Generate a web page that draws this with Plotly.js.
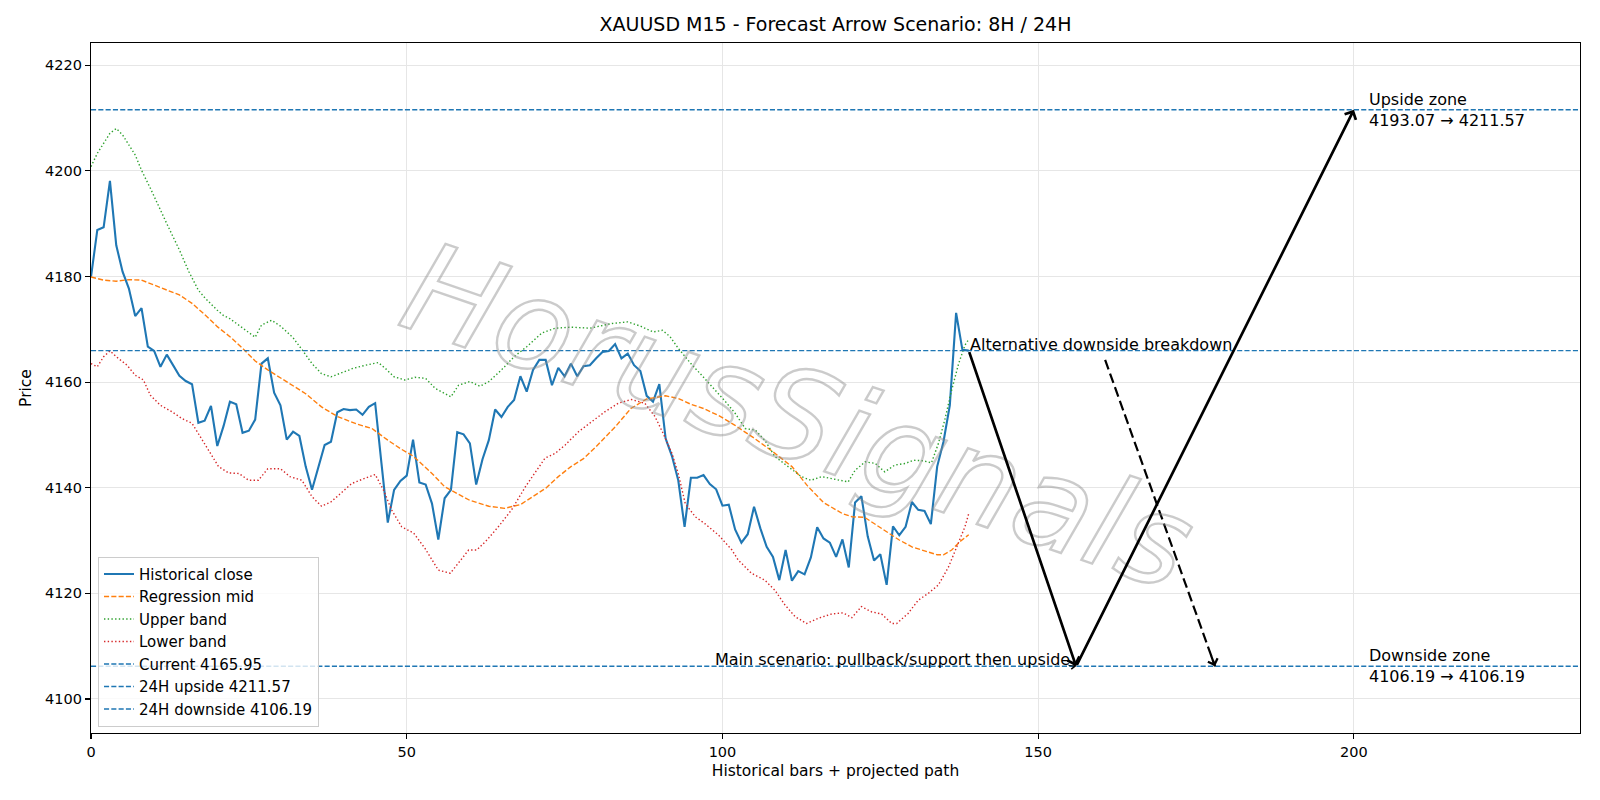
<!DOCTYPE html>
<html>
<head>
<meta charset="utf-8">
<script src="https://cdn.plot.ly/plotly-3.0.1.min.js"></script>
<style>html,body{margin:0;padding:0;background:#fff}#chart{width:1600px;height:800px}</style>
</head>
<body>
<div id="chart"></div>
<script>
// ---- Data ----
const closeY = [4179.9,4188.8,4189.3,4198.1,4185.9,4180.9,4177.7,4172.5,4174.0,4166.7,
4165.9,4162.9,4165.2,4163.3,4161.2,4160.2,4159.6,4152.3,4152.7,4155.5,
4147.9,4151.7,4156.3,4155.8,4150.4,4150.8,4152.9,4163.5,4164.5,4158.0,
4155.6,4149.1,4150.6,4149.8,4144.0,4139.6,4143.7,4148.1,4148.7,4154.3,
4154.9,4154.7,4154.8,4153.8,4155.3,4156.0,4144.6,4133.4,4139.6,4141.3,
4142.3,4149.1,4141.0,4140.6,4137.0,4130.2,4138.0,4139.6,4150.5,4150.1,
4148.4,4140.6,4145.4,4149.0,4154.8,4153.4,4155.3,4156.6,4161.1,4158.2,
4162.3,4164.2,4164.2,4159.4,4162.7,4161.1,4163.5,4161.1,4163.0,4163.2,
4164.5,4165.7,4165.9,4167.2,4164.5,4165.4,4163.2,4162.1,4157.4,4156.3,
4159.6,4149.3,4146.0,4141.4,4132.6,4141.9,4141.9,4142.4,4140.7,4139.7,
4136.6,4136.8,4132.1,4129.6,4131.2,4136.4,4132.3,4128.8,4126.9,4122.5,
4128.2,4122.4,4124.2,4123.6,4126.8,4132.5,4130.4,4129.6,4126.9,4130.2,
4124.9,4137.2,4138.4,4130.8,4126.2,4127.4,4121.6,4132.7,4131.0,4132.6,
4137.3,4135.8,4135.6,4133.1,4144.0,4148.7,4155.6,4173.1,4166.1,4165.95];

const midX = [0,2,4,6,8,10,12,14,16,18,20,22,24,26,28,31,34,36.5,39,42,44.5,47,49,51,54,56,58,60,63,65.5,68,70,72,74,76,78,80,83,85.5,88,91,93,95,97,99.5,102,105,108,111,113.5,116,119,120.5,122.5,125,128,130,132,134,135,136.3,137.6,139];
const midY = [4179.9,4179.3,4179.1,4179.4,4179.3,4178.4,4177.4,4176.5,4174.9,4172.8,4170.5,4168.6,4166.4,4164.0,4162.3,4160.1,4157.8,4155.3,4153.5,4152.1,4151.2,4149.0,4147.4,4146.0,4142.7,4140.2,4138.9,4137.6,4136.5,4136.1,4136.8,4138.3,4139.9,4142.1,4144.0,4145.5,4147.8,4151.5,4155.0,4156.8,4157.4,4156.9,4155.8,4155.0,4153.6,4151.8,4149.4,4146.8,4144.0,4140.3,4137.2,4135.1,4134.5,4134.4,4132.4,4130.1,4128.8,4128.1,4127.3,4127.3,4128.2,4129.8,4131.1];

const upperX = [0,1,2,3,4,5,7,8,9.4,11,12,14,15.5,17,18,20,21,22,24,26,27,28.6,30,32,33.5,35,36.5,38,40,41.5,43.5,45.5,46.6,48,49.7,51.3,53,54.5,57,58.2,60,61.6,63,65,67,69,71.4,73.5,76,79,82.5,85,87,89,90.5,91.7,93,95,96.7,98.6,100.4,102,103.6,105.2,106.7,108.3,110.4,112.5,114,115.7,117.8,119.9,121,122.6,124.2,125.7,127.3,129,130.2,131.8,133.1,134.2,135.2,136.3,137.4,138.4,139];
const upperY = [4200.8,4203.3,4205.2,4207.1,4208.0,4206.8,4203.0,4200.1,4196.7,4192.5,4190.0,4185.0,4180.9,4177.4,4176.0,4173.6,4172.6,4172.0,4170.3,4168.5,4170.8,4171.7,4170.6,4168.4,4166.0,4163.5,4161.6,4161.0,4161.9,4162.6,4163.2,4163.7,4162.6,4161.0,4160.4,4160.9,4160.7,4158.8,4157.2,4159.4,4160.1,4159.2,4160.1,4162.3,4164.8,4166.7,4169.3,4170.2,4170.4,4170.2,4171.1,4171.4,4170.6,4169.5,4169.8,4168.6,4166.4,4163.5,4161.3,4158.8,4156.4,4154.1,4151.2,4150.9,4149.0,4145.9,4144.0,4142.1,4141.4,4142.1,4141.6,4141.1,4143.3,4144.9,4144.6,4143.0,4144.3,4144.6,4145.2,4145.1,4144.7,4148.4,4152.8,4158.5,4163.5,4167.0,4168.1];

const lowerX = [0,1,2,3,4,5.7,7,8.3,9.4,11,12.8,14.4,16,17.3,18.6,20.2,21.8,23.4,25,26.5,28,30,31.5,33.4,35,36.5,38,39.7,41.3,43.4,45,46.3,47.6,49.2,51.1,52.9,55,56.9,58.2,59.8,61.1,62.7,64.5,66.6,68.8,70.3,71.9,73.5,75.1,77.2,79.3,81.4,83.5,85.6,87.7,89.3,90.6,92,93,94.1,95.7,97.2,99.4,101.5,102.5,104.6,106.7,108.3,109.9,111.5,113.3,115.2,117.3,119.1,120.5,122,123.6,125.2,126.8,127.6,129.4,131,132.6,134.2,135.8,137.4,138.4,139];
const lowerY = [4163.5,4162.9,4164.8,4165.9,4164.8,4163.2,4161.3,4160.4,4157.5,4155.6,4154.4,4153.1,4152.2,4149.6,4147.1,4144.0,4142.8,4142.7,4141.4,4141.4,4143.6,4143.6,4142.1,4141.4,4138.3,4136.5,4137.3,4139.2,4140.8,4141.8,4142.5,4139.6,4135.8,4132.6,4131.4,4128.5,4124.4,4123.8,4125.7,4128.2,4128.2,4130.1,4132.6,4135.8,4140.2,4142.7,4145.6,4146.5,4148.1,4150.6,4152.5,4154.4,4156.0,4156.7,4156.0,4153.5,4150.3,4146.5,4142.7,4137.0,4134.5,4133.2,4131.0,4128.2,4126.3,4123.8,4122.5,4120.6,4117.8,4115.6,4114.3,4115.3,4116.1,4116.3,4115.4,4117.5,4116.5,4116.1,4114.3,4114.3,4116.2,4118.7,4120.0,4121.6,4125.0,4129.5,4132.6,4135.1];

const currentPrice = 4165.95;
const upsideTarget = 4211.57;
const upsideZoneLow = 4193.07;
const downsideTarget = 4106.19;
const downsideZoneLow = 4106.19;

// Projected scenario path: current -> support -> upside
const pathX = [139, 156, 200];
const pathY = [currentPrice, downsideTarget, upsideTarget];
// Alternative (dashed) path: start under label -> downside
const altX = [160.6, 178];
const altY = [4164.2, downsideTarget];

const xRange = [0, 235.8];
const yRange = [4093.56, 4224.2];
const xTicks = [0, 50, 100, 150, 200];
const yTicks = [4100, 4120, 4140, 4160, 4180, 4200, 4220];

const titleText = 'XAUUSD M15 - Forecast Arrow Scenario: 8H / 24H';
const xTitle = 'Historical bars + projected path';
const yTitle = 'Price';
const watermark = 'HorusSignals';

// ---- Traces ----
const closeX = closeY.map((_, i) => i);
const BLUE = '#1f77b4', ORANGE = '#ff7f0e', GREEN = '#2ca02c', RED = '#d62728';
const DASH = '5.1px,2.2px', DOT = '1.4px,2.3px';
const TXT = 16;

const traces = [
  {x: closeX, y: closeY, mode: 'lines', name: 'Historical close', line: {color: BLUE, width: 2.1}},
  {x: midX, y: midY, mode: 'lines', name: 'Regression mid', line: {color: ORANGE, width: 1.4, dash: DASH}},
  {x: upperX, y: upperY, mode: 'lines', name: 'Upper band', line: {color: GREEN, width: 1.4, dash: DOT}},
  {x: lowerX, y: lowerY, mode: 'lines', name: 'Lower band', line: {color: RED, width: 1.4, dash: DOT}},
  {x: xRange, y: [currentPrice, currentPrice], mode: 'lines', name: 'Current ' + currentPrice.toFixed(2), line: {color: BLUE, width: 1.4, dash: DASH}},
  {x: xRange, y: [upsideTarget, upsideTarget], mode: 'lines', name: '24H upside ' + upsideTarget.toFixed(2), line: {color: BLUE, width: 1.4, dash: DASH}},
  {x: xRange, y: [downsideTarget, downsideTarget], mode: 'lines', name: '24H downside ' + downsideTarget.toFixed(2), line: {color: BLUE, width: 1.4, dash: DASH}}
];

const arrowBase = {xref: 'x', yref: 'y', axref: 'x', ayref: 'y', showarrow: true, text: '',
  arrowhead: 4, arrowsize: 0.9, arrowwidth: 2.7, arrowcolor: '#000', standoff: 0, startstandoff: 0};

const annotations = [
  {text: watermark, xref: 'paper', yref: 'paper', x: 0.475, y: 0.458, showarrow: false,
   textangle: 19, font: {family: 'DejaVu Sans', size: 126, style: 'italic', color: 'rgba(0,0,0,0)'}},
  Object.assign({}, arrowBase, {x: pathX[1], y: pathY[1], ax: pathX[0], ay: pathY[0]}),
  Object.assign({}, arrowBase, {x: pathX[2], y: pathY[2], ax: pathX[1], ay: pathY[1]}),
  {x: altX[1], y: altY[1], xref: 'x', yref: 'y', ax: -4.5, ay: -12.5, showarrow: true, text: '',
   arrowhead: 4, arrowsize: 0.9, arrowwidth: 2.2, arrowcolor: '#000', standoff: 0},
  {x: pathX[1], y: pathY[1], xref: 'x', yref: 'y', ax: -9, ay: -1, showarrow: true, text: '',
   arrowhead: 4, arrowsize: 1.2, arrowwidth: 1.1, arrowcolor: '#000', standoff: 0},
  {text: 'Alternative downside breakdown', x: pathX[0], y: currentPrice, xref: 'x', yref: 'y',
   xanchor: 'left', yanchor: 'bottom', showarrow: false, yshift: -5, xshift: -1, font: {size: TXT, color: '#000'}},
  {text: 'Main scenario: pullback/support then upside', x: pathX[1], y: downsideTarget, xref: 'x', yref: 'y',
   xanchor: 'right', yanchor: 'bottom', showarrow: false, yshift: -5, xshift: -4, font: {size: TXT, color: '#000'}},
  {text: 'Upside zone<br>' + upsideZoneLow.toFixed(2) + ' → ' + upsideTarget.toFixed(2), x: pathX[2] + 2, y: upsideTarget,
   xref: 'x', yref: 'y', xanchor: 'left', yanchor: 'middle', align: 'left', showarrow: false, font: {size: TXT, color: '#000'}},
  {text: 'Downside zone<br>' + downsideZoneLow.toFixed(2) + ' → ' + downsideTarget.toFixed(2), x: pathX[2] + 2, y: downsideTarget,
   xref: 'x', yref: 'y', xanchor: 'left', yanchor: 'middle', align: 'left', showarrow: false, font: {size: TXT, color: '#000'}}
];

const shapes = [
  {type: 'line', xref: 'x', yref: 'y', x0: altX[0], y0: altY[0], x1: altX[1], y1: altY[1],
   line: {color: '#000', width: 2.2, dash: '10px,4.5px'}}
];

const axisCommon = {
  ticks: 'outside', ticklen: 5, tickwidth: 1.1, tickcolor: '#000',
  showline: true, mirror: true, linecolor: '#000', linewidth: 1.1,
  showgrid: true, gridcolor: '#e6e6e6', gridwidth: 1, zeroline: false,
  tickfont: {size: 14.5, color: '#000'}
};

const layout = {
  width: 1600, height: 800,
  margin: {l: 91, r: 20, t: 43, b: 67},
  paper_bgcolor: '#fff', plot_bgcolor: '#fff',
  font: {family: 'DejaVu Sans', size: 14, color: '#000'},
  title: {text: titleText, font: {size: 19, color: '#000'}, x: 0.5, xref: 'paper', xanchor: 'center',
          y: 1 - 24.5 / 800, yref: 'container', yanchor: 'middle'},
  xaxis: Object.assign({}, axisCommon, {range: xRange, tickvals: xTicks, ticktext: xTicks.map(String),
          title: {text: xTitle, standoff: 6, font: {size: 15.5, color: '#000'}}}),
  yaxis: Object.assign({}, axisCommon, {range: yRange, tickvals: yTicks, ticktext: yTicks.map(String),
          title: {text: yTitle, standoff: 9, font: {size: 15.5, color: '#000'}}}),
  showlegend: true,
  legend: {x: 0.0047, y: 0.009, xanchor: 'left', yanchor: 'bottom', bgcolor: 'rgba(255,255,255,0.8)',
           bordercolor: '#cccccc', borderwidth: 1, font: {size: 15, color: '#000'}, traceorder: 'normal',
           entrywidth: 200, entrywidthmode: 'pixels'},
  annotations: annotations,
  shapes: shapes
};

Plotly.newPlot('chart', traces, layout, {displayModeBar: false, staticPlot: true}).then(gd => {
  gd.querySelectorAll('.annotation-text').forEach(t => {
    if (t.textContent === watermark) {
      t.style.fill = 'rgba(255,255,255,0)';
      t.style.stroke = 'rgba(140,140,140,0.45)';
      t.style.strokeWidth = '2.4px';
    }
  });
});
</script>
</body>
</html>
